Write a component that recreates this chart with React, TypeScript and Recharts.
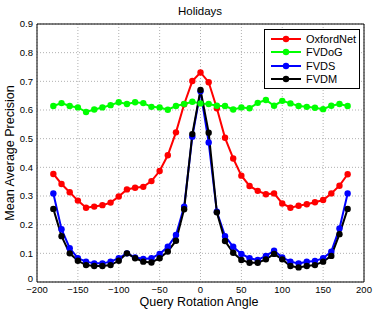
import React from "react";
import {
  LineChart,
  Line,
  XAxis,
  YAxis,
  CartesianGrid,
  Legend,
  ReferenceLine,
} from "recharts";

const angles = [
  -180, -170, -160, -150, -140, -130, -120, -110, -100, -90, -80, -70, -60, -50, -40, -30, -20, -10,
  0, 10, 20, 30, 40, 50, 60, 70, 80, 90, 100, 110, 120, 130, 140, 150, 160, 170, 180,
];

const oxfordNet = [
  0.377, 0.342, 0.313, 0.284, 0.259, 0.263, 0.268, 0.277, 0.298, 0.323, 0.329, 0.332, 0.352, 0.387,
  0.442, 0.522, 0.62, 0.701, 0.731, 0.697, 0.606, 0.503, 0.431, 0.371, 0.335, 0.318, 0.306, 0.309,
  0.274, 0.259, 0.266, 0.271, 0.278, 0.286, 0.309, 0.336, 0.376,
];

const fvdog = [
  0.614, 0.624, 0.614, 0.609, 0.593, 0.602, 0.609, 0.617, 0.627, 0.621, 0.627, 0.624, 0.611, 0.609,
  0.601, 0.614, 0.621, 0.629, 0.623, 0.621, 0.615, 0.614, 0.602, 0.609, 0.606, 0.625, 0.635, 0.615,
  0.632, 0.623, 0.614, 0.611, 0.608, 0.603, 0.615, 0.621, 0.614,
];

const fvds = [
  0.309, 0.184, 0.118, 0.083, 0.071, 0.065, 0.065, 0.071, 0.083, 0.1, 0.086, 0.08, 0.083, 0.098,
  0.123, 0.164, 0.263, 0.507, 0.665, 0.487, 0.245, 0.16, 0.123, 0.098, 0.083, 0.077, 0.091, 0.109,
  0.086, 0.071, 0.065, 0.071, 0.073, 0.083, 0.106, 0.187, 0.309,
];

const fvdm = [
  0.255, 0.16, 0.1, 0.074, 0.059, 0.056, 0.056, 0.059, 0.074, 0.1, 0.083, 0.071, 0.068, 0.083,
  0.106, 0.144, 0.254, 0.516, 0.67, 0.521, 0.243, 0.143, 0.102, 0.077, 0.067, 0.067, 0.079, 0.098,
  0.079, 0.056, 0.051, 0.056, 0.059, 0.071, 0.091, 0.167, 0.255,
];

const xTicks = [-200, -150, -100, -50, 0, 50, 100, 150, 200];
const yTicks = [0, 0.1, 0.2, 0.3, 0.4, 0.5, 0.6, 0.7, 0.8, 0.9];

const series = [
  { key: "oxfordNet", name: "OxfordNet", color: "#ff0000" },
  { key: "fvdog", name: "FVDoG", color: "#00ff00" },
  { key: "fvds", name: "FVDS", color: "#0000ff" },
  { key: "fvdm", name: "FVDM", color: "#000000" },
];

const data = angles.map((a, i) => ({
  angle: a,
  oxfordNet: oxfordNet[i],
  fvdog: fvdog[i],
  fvds: fvds[i],
  fvdm: fvdm[i],
}));

const font = "'Liberation Sans', Arial, Helvetica, sans-serif";

const LegendBox = () => (
  <div
    style={{
      border: "1px solid #000",
      background: "#fff",
      width: 94,
      padding: "2px 0",
      fontFamily: font,
      fontSize: 11,
      color: "#000",
    }}
  >
    {series.map((s) => (
      <div key={s.key} style={{ display: "flex", alignItems: "center", height: 13.5 }}>
        <svg width={36} height={10} style={{ marginLeft: 5 }}>
          <line x1={1} y1={5} x2={31} y2={5} stroke={s.color} strokeWidth={2} />
          <circle cx={16} cy={5} r={3.2} fill={s.color} />
        </svg>
        <span>{s.name}</span>
      </div>
    ))}
  </div>
);

// y tick: the "0" sits a bit higher so it clears the -200 below it
const YTick = (props: any) => {
  const { x, y, payload } = props;
  const v = payload.value as number;
  return (
    <text
      x={x}
      y={v === 0 ? y - 3 : y}
      dy="0.355em"
      textAnchor="end"
      fontSize={9.5}
      fontFamily={font}
      fill="#000"
    >
      {v === 0 ? "0" : v.toFixed(1)}
    </text>
  );
};

export default function App() {
  return (
    <div style={{ position: "absolute", left: 0, top: 0, width: 374, height: 312, background: "#fff" }}>
      <div
        style={{
          position: "absolute",
          left: 0,
          width: 400,
          top: 5,
          textAlign: "center",
          fontFamily: font,
          fontSize: 11.5,
          color: "#000",
        }}
      >
        Holidays
      </div>
      <LineChart width={374} height={312} data={data} margin={{ top: 24, right: 10, left: 0, bottom: 0 }}>
        <CartesianGrid stroke="#b0b0b0" strokeDasharray="1 2" />
        <XAxis
          dataKey="angle"
          type="number"
          domain={[-200, 200]}
          ticks={xTicks}
          height={30}
          tickLine={false}
          tickSize={0}
          axisLine={{ stroke: "#000" }}
          tick={{ fontSize: 9.5, fill: "#000", fontFamily: font }}
          tickMargin={4}
          tickFormatter={(v: number) => String(v).replace("-", "\u2212")}
          label={{
            content: () => (
              <text x={199} y={306} textAnchor="middle" fontSize={12.5} fontFamily={font} fill="#000">
                Query Rotation Angle
              </text>
            ),
          }}
        />
        <YAxis
          type="number"
          domain={[0, 0.9]}
          ticks={yTicks}
          width={37}
          tickLine={false}
          tickSize={0}
          axisLine={{ stroke: "#000" }}
          tick={<YTick />}
          tickMargin={4}
          label={{
            content: () => (
              <text
                x={14}
                y={153}
                transform="rotate(-90 14 153)"
                textAnchor="middle"
                fontSize={12.5}
                fontFamily={font}
                fill="#000"
              >
                Mean Average Precision
              </text>
            ),
          }}
        />
        <ReferenceLine y={0.9} stroke="#000" />
        <ReferenceLine x={200} stroke="#000" />
        {series.map((s) => (
          <Line
            key={s.key}
            dataKey={s.key}
            name={s.name}
            type="linear"
            stroke={s.color}
            strokeWidth={2}
            dot={{ r: 3.2, fill: s.color, stroke: s.color, strokeWidth: 0 }}
            isAnimationActive={false}
          />
        ))}
        <Legend
          layout="vertical"
          align="center"
          verticalAlign="middle"
          content={() => <LegendBox />}
          wrapperStyle={{ position: "absolute", left: 264, top: 29, width: 96 }}
        />
      </LineChart>
    </div>
  );
}
